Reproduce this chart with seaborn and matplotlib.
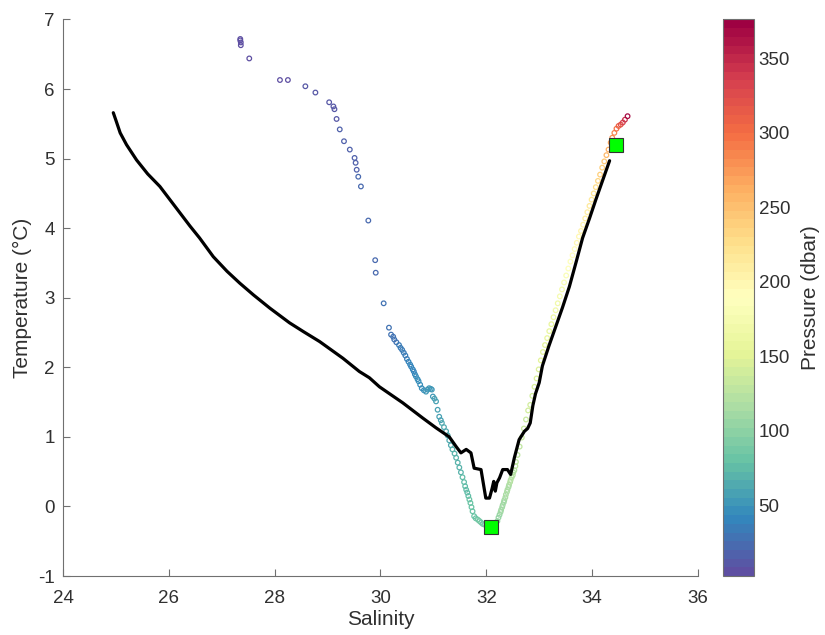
import numpy as np
import pandas as pd
import matplotlib
matplotlib.use("Agg")
import matplotlib.pyplot as plt
import seaborn as sns
from matplotlib.colors import Normalize
from matplotlib.cm import ScalarMappable

# -----------------------------------------------
# data
# -----------------------------------------------
# black line (second profile, no pressure colouring)
line_sal = [24.95, 25.00, 25.08, 25.20, 25.39, 25.60, 25.83, 26.00, 26.21, 26.40,
            26.58, 26.84, 27.10, 27.34, 27.60, 27.91, 28.28, 28.55, 28.85, 29.29,
            29.60, 29.79, 29.98, 30.42, 30.80, 31.05, 31.30, 31.43, 31.52, 31.62,
            31.71, 31.77, 31.90, 31.99, 32.06, 32.11, 32.14, 32.17, 32.20, 32.25,
            32.31, 32.40, 32.46, 32.53, 32.62, 32.72, 32.78, 32.83, 32.88, 32.93,
            33.00, 33.06, 33.18, 33.31, 33.44, 33.57, 33.70, 33.82, 33.95, 34.07,
            34.20, 34.33]
line_temp = [5.66, 5.55, 5.37, 5.20, 4.98, 4.78, 4.60, 4.43, 4.22, 4.03,
             3.86, 3.59, 3.38, 3.21, 3.04, 2.85, 2.64, 2.51, 2.37, 2.13,
             1.94, 1.85, 1.72, 1.49, 1.27, 1.13, 1.00, 0.86, 0.77, 0.82,
             0.77, 0.55, 0.53, 0.12, 0.12, 0.26, 0.36, 0.22, 0.34, 0.41,
             0.53, 0.53, 0.46, 0.70, 0.96, 1.08, 1.12, 1.20, 1.45, 1.62,
             1.78, 2.02, 2.30, 2.58, 2.86, 3.16, 3.52, 3.86, 4.14, 4.41,
             4.69, 4.97]

# scatter profile coloured by pressure
pt_sal = [27.35, 27.35, 27.36, 27.36, 27.52, 28.10, 28.25, 28.58, 28.77, 29.03,
          29.11, 29.13, 29.17, 29.23, 29.31, 29.42, 29.51, 29.53, 29.55, 29.58,
          29.63, 29.77, 29.90, 29.91, 30.06, 30.16, 30.20, 30.24, 30.26, 30.30,
          30.35, 30.38, 30.41, 30.44, 30.47, 30.50, 30.53, 30.56, 30.58, 30.61,
          30.63, 30.65, 30.67, 30.70, 30.72, 30.75, 30.78, 30.82, 30.86, 30.89,
          30.92, 30.95, 30.97, 30.99, 31.02, 31.05, 31.08, 31.11, 31.14, 31.16,
          31.20, 31.24, 31.27, 31.30, 31.33, 31.36, 31.40, 31.43, 31.46, 31.49,
          31.52, 31.55, 31.58, 31.60, 31.62, 31.64, 31.66, 31.68, 31.70, 31.72,
          31.74, 31.77, 31.80, 31.84, 31.87, 31.90, 31.93, 31.96, 32.00, 32.03,
          32.06, 32.09, 32.12, 32.15, 32.18, 32.21, 32.23, 32.25, 32.27, 32.28,
          32.30, 32.31, 32.33, 32.34, 32.36, 32.37, 32.39, 32.40, 32.42, 32.43,
          32.45, 32.46, 32.48, 32.50, 32.51, 32.53, 32.55, 32.56,
          32.59, 32.63, 32.67, 32.71, 32.75, 32.79, 32.83, 32.87, 32.91, 32.95,
          32.99, 33.03, 33.07, 33.11, 33.15, 33.19, 33.23, 33.27, 33.31, 33.35,
          33.39, 33.43, 33.47, 33.51, 33.55, 33.59, 33.63, 33.67, 33.71, 33.75,
          33.79, 33.83, 33.87, 33.91, 33.95, 33.99, 34.03, 34.07, 34.11, 34.15,
          34.19, 34.23, 34.27, 34.31, 34.35, 34.38, 34.42, 34.46, 34.50, 34.54,
          34.58, 34.62, 34.67]
pt_temp = [6.72, 6.70, 6.67, 6.63, 6.44, 6.13, 6.13, 6.04, 5.95, 5.81,
           5.75, 5.71, 5.57, 5.42, 5.25, 5.13, 5.01, 4.94, 4.84, 4.74,
           4.60, 4.11, 3.54, 3.36, 2.92, 2.57, 2.47, 2.44, 2.40, 2.36,
           2.32, 2.28, 2.25, 2.21, 2.17, 2.12, 2.08, 2.04, 2.01, 1.97,
           1.94, 1.90, 1.87, 1.83, 1.80, 1.75, 1.70, 1.67, 1.65, 1.68,
           1.70, 1.69, 1.68, 1.58, 1.55, 1.51, 1.39, 1.29, 1.24, 1.20,
           1.14, 1.08, 1.02, 0.95, 0.88, 0.82, 0.76, 0.70, 0.63, 0.56,
           0.49, 0.42, 0.35, 0.29, 0.24, 0.20, 0.15, 0.10, 0.05, -0.01,
           -0.07, -0.14, -0.17, -0.19, -0.21, -0.23, -0.25, -0.26, -0.27, -0.28,
           -0.28, -0.28, -0.27, -0.26, -0.24, -0.21, -0.16, -0.12, -0.08, -0.05,
           -0.01, 0.02, 0.06, 0.09, 0.13, 0.17, 0.21, 0.24, 0.28, 0.31,
           0.35, 0.38, 0.42, 0.45, 0.49, 0.52, 0.58, 0.64,
           0.74, 0.86, 0.99, 1.12, 1.25, 1.38, 1.46, 1.59, 1.72, 1.84,
           1.97, 2.10, 2.22, 2.32, 2.42, 2.52, 2.62, 2.72, 2.82, 2.92,
           3.02, 3.12, 3.22, 3.32, 3.42, 3.52, 3.61, 3.70, 3.79, 3.88,
           3.96, 4.05, 4.14, 4.23, 4.32, 4.41, 4.50, 4.59, 4.68, 4.77,
           4.87, 4.96, 5.05, 5.13, 5.23, 5.30, 5.37, 5.43, 5.47, 5.49,
           5.52, 5.56, 5.61]
pt_pres = [2, 3, 4, 5, 6, 7, 8, 9, 10, 11,
           12, 13, 14, 15, 16, 17, 18, 19, 20, 21,
           22, 23, 24, 25, 26, 27, 28, 29, 30, 31,
           32, 33, 34, 35, 36, 37, 38, 39, 40, 41,
           42, 43, 44, 45, 46, 47, 48, 49, 50, 51,
           52, 53, 54, 55, 56, 57, 58, 59, 60, 61,
           62, 63, 64, 65, 66, 67, 68, 69, 70, 71,
           72, 73, 74, 75, 76, 77, 78, 79, 80, 81,
           82, 83, 84, 85, 86, 87, 88, 89, 90, 92,
           94, 96, 98, 100, 102, 104, 106, 107, 108, 109,
           110, 111, 112, 113, 114, 115, 116, 117, 118, 119,
           120, 121, 122, 123, 124, 125, 126, 127,
           128, 130, 132, 134, 136, 138, 140, 142, 144, 146,
           148, 150, 152, 154, 156, 158, 160, 163, 166, 169,
           172, 175, 178, 181, 184, 187, 190, 193, 196, 199,
           202, 205, 208, 211, 214, 218, 222, 226, 231, 236,
           241, 247, 254, 261, 269, 277, 286, 296, 306, 318,
           330, 345, 370]

# highlighted points (green squares)
mark_sal = [32.09, 34.45]
mark_temp = [-0.29, 5.20]

PRES_MIN, PRES_MAX = 2.5, 376
CBAR_TICKS = [50, 100, 150, 200, 250, 300, 350]

# -----------------------------------------------
# style
# -----------------------------------------------
sns.set_theme(style="white")
plt.rcParams["font.family"] = ["Liberation Sans", "DejaVu Sans"]
plt.rcParams["axes.unicode_minus"] = False
TXT = "#303030"
AXC = "#707070"

cmap = plt.get_cmap("Spectral_r", 64)
norm = Normalize(vmin=PRES_MIN, vmax=PRES_MAX)

df_line = pd.DataFrame({"Salinity": line_sal, "Temperature": line_temp})
df_pts = pd.DataFrame({"Salinity": pt_sal, "Temperature": pt_temp, "Pressure": pt_pres})

fig = plt.figure(figsize=(8.25, 6.35), dpi=100)
ax = fig.add_axes([0.0764, 0.0929, 0.7696, 0.8764])
cax = fig.add_axes([0.876, 0.0929, 0.0376, 0.8764])

# scatter, hollow rings like matlab
sns.scatterplot(data=df_pts, x="Salinity", y="Temperature", hue="Pressure",
                palette=cmap, hue_norm=norm, s=11, marker="o",
                linewidth=0, legend=False, ax=ax, zorder=2)
pts = ax.collections[-1]
cols = pts.get_facecolors()
pts.set_edgecolors(cols)
pts.set_facecolors("none")
pts.set_linewidths(0.9)

sns.lineplot(data=df_line, x="Salinity", y="Temperature", sort=False,
             color="black", lw=2.3, ax=ax, zorder=3)

ax.plot(mark_sal, mark_temp, ls="none", marker="s", ms=9.5,
        mfc="#00ff00", mec="#333333", mew=0.8, zorder=4)

ax.set_xlim(24, 36)
ax.set_ylim(-1, 7)
ax.set_xticks(np.arange(24, 37, 2))
ax.set_yticks(np.arange(-1, 8, 1))
ax.set_xlabel("Salinity", fontsize=15, color=TXT, labelpad=2)
ax.set_ylabel("Temperature (°C)", fontsize=15, color=TXT)
ax.tick_params(direction="in", length=5, width=0.8, colors=AXC,
               labelcolor=TXT, labelsize=13.5, left=True, bottom=True)
ax.tick_params(axis="x", pad=10)
ax.tick_params(axis="y", pad=6)
sns.despine(ax=ax)
for s in ["left", "bottom"]:
    ax.spines[s].set_color(AXC)
    ax.spines[s].set_linewidth(0.8)

# colorbar
sm = ScalarMappable(norm=norm, cmap=cmap)
cb = fig.colorbar(sm, cax=cax, ticks=CBAR_TICKS)
cb.outline.set_edgecolor(AXC)
cb.outline.set_linewidth(0.8)
cax.tick_params(direction="in", length=4, width=0.8, colors=AXC,
                labelcolor=TXT, labelsize=13.5)
cb.set_label("Pressure (dbar)", fontsize=15, color=TXT, labelpad=8)

fig.savefig("out.png", dpi=100)
